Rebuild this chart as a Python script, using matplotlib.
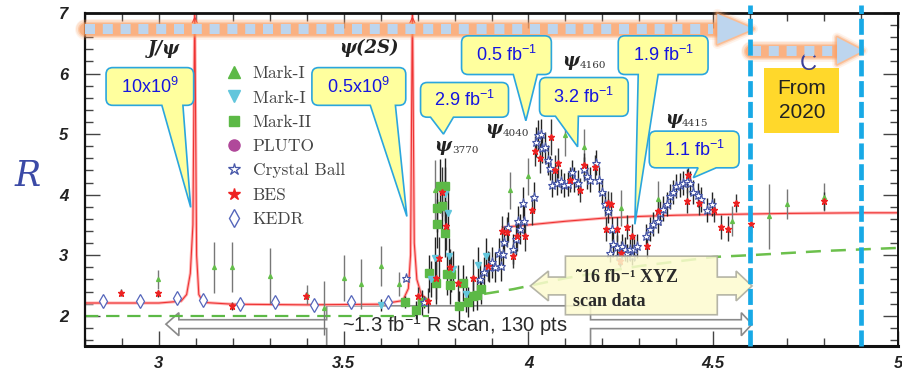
"""R ratio scan plot with BESIII luminosity callouts."""

import matplotlib.pyplot as plt
from matplotlib.lines import Line2D
from matplotlib.patches import PathPatch, Polygon, Rectangle
from matplotlib.path import Path
from matplotlib.ticker import MultipleLocator

plt.rcParams["mathtext.fontset"] = "custom"
plt.rcParams["mathtext.rm"] = "Liberation Sans"
plt.rcParams["mathtext.default"] = "rm"

# ---- measurements: energy (GeV), R, error -------------------------------
MARK_I_E = [2.997, 3.149, 3.198, 3.30, 3.40, 3.448, 3.50, 3.548, 3.60, 3.649,
            3.748, 3.95, 4.00, 4.099, 4.151, 4.25, 4.351, 4.55, 4.65, 4.70, 4.80]
MARK_I_R = [2.60, 2.80, 2.81, 2.66, 2.35, 2.13, 2.63, 2.52, 2.82, 2.52,
            4.07, 4.07, 4.30, 4.98, 4.78, 3.78, 3.93, 3.56, 3.64, 3.85, 3.96]
MARK_I_ERR = [0.16, 0.42, 0.41, 0.46, 0.15, 0.45, 0.38, 0.41, 0.33, 0.20,
              0.50, 0.30, 0.30, 0.35, 0.30, 0.30, 0.30, 0.25, 0.53, 0.25, 0.23]

MARK_IP_E = [3.60, 3.737, 3.748, 3.775, 3.782, 3.786, 3.797, 3.831, 3.863, 3.885]
MARK_IP_R = [2.17, 2.61, 2.95, 4.01, 3.70, 2.99, 2.77, 2.36, 2.84, 2.99]
MARK_IP_ERR = [0.10, 0.30, 0.35, 0.45, 0.40, 0.30, 0.30, 0.30, 0.30, 0.30]

MARK_II_E = [3.667, 3.695, 3.712, 3.730, 3.749, 3.752, 3.752, 3.761, 3.766, 3.773,
             3.775, 3.779, 3.788, 3.791, 3.813, 3.823, 3.836, 3.849, 3.860, 3.872]
MARK_II_R = [2.22, 2.10, 2.22, 2.70, 2.54, 3.78, 3.52, 4.14, 3.81, 4.15,
             3.37, 2.69, 2.50, 2.69, 2.16, 2.54, 2.23, 2.33, 2.34, 2.44]
MARK_II_ERR = [0.10, 0.15, 0.20, 0.30, 0.35, 0.40, 0.40, 0.45, 0.40, 0.45,
               0.40, 0.35, 0.30, 0.30, 0.25, 0.30, 0.25, 0.25, 0.25, 0.25]

CBALL_E = [3.668, 3.716, 3.869, 3.881, 3.892, 3.901, 3.910, 3.919, 3.926, 3.932,
           3.935, 3.944, 3.957, 3.966, 3.973, 3.977, 3.984, 3.989, 4.016, 4.020,
           4.025, 4.034, 4.038, 4.045, 4.052, 4.059, 4.063, 4.077, 4.088, 4.095,
           4.108, 4.119, 4.124, 4.135, 4.149, 4.158, 4.167, 4.182, 4.190, 4.198,
           4.207, 4.215, 4.221, 4.226, 4.230, 4.239, 4.244, 4.252, 4.261, 4.266,
           4.275, 4.281, 4.286, 4.295, 4.317, 4.329, 4.338, 4.350, 4.356, 4.365,
           4.374, 4.383, 4.392, 4.398, 4.410, 4.419, 4.428, 4.437, 4.446, 4.458,
           4.468, 4.482, 4.497]
CBALL_R = [2.62, 2.23, 2.60, 2.72, 2.81, 2.88, 2.80, 3.03, 2.82, 3.02,
           3.22, 3.47, 3.10, 3.26, 3.56, 3.43, 3.87, 3.56, 3.96, 4.87,
           4.98, 5.00, 4.77, 4.78, 4.57, 4.44, 4.16, 4.20, 4.22, 4.16,
           4.18, 4.37, 4.25, 4.20, 4.42, 4.30, 4.25, 4.53, 4.25, 4.05,
           3.85, 3.73, 3.03, 3.43, 3.18, 3.13, 2.98, 3.15, 3.10, 3.04,
           3.10, 2.98, 3.11, 3.15, 3.31, 3.43, 3.51, 3.56, 3.70, 3.77,
           3.85, 3.97, 4.04, 4.14, 4.16, 4.19, 4.22, 4.19, 4.05, 4.00,
           3.92, 3.75, 3.85]
CBALL_ERR = [0.05, 0.10, 0.25, 0.25, 0.25, 0.25, 0.25, 0.25, 0.25, 0.25,
             0.25, 0.25, 0.25, 0.25, 0.25, 0.25, 0.25, 0.25, 0.25, 0.25,
             0.25, 0.25, 0.25, 0.25, 0.25, 0.20, 0.20, 0.20, 0.20, 0.20,
             0.20, 0.20, 0.20, 0.20, 0.20, 0.20, 0.20, 0.20, 0.20, 0.20,
             0.20, 0.20, 0.15, 0.20, 0.20, 0.20, 0.15, 0.20, 0.20, 0.15,
             0.20, 0.15, 0.20, 0.20, 0.20, 0.20, 0.20, 0.20, 0.20, 0.20,
             0.20, 0.20, 0.20, 0.20, 0.20, 0.20, 0.20, 0.20, 0.20, 0.20,
             0.20, 0.20, 0.20]

BES_E = [2.898, 2.997, 3.198, 3.399, 3.701, 3.728, 3.750, 3.757, 3.766, 3.777,
         3.788, 3.809, 3.851, 3.890, 3.928, 3.941, 3.957, 3.969, 3.991, 4.009,
         4.018, 4.031, 4.061, 4.072, 4.079, 4.112, 4.140, 4.151, 4.180, 4.209,
         4.216, 4.223, 4.239, 4.248, 4.250, 4.266, 4.281, 4.320, 4.350, 4.428,
         4.432, 4.461, 4.503, 4.521, 4.539, 4.561, 4.602, 4.800]
BES_R = [2.38, 2.37, 2.16, 2.33, 2.33, 2.25, 2.63, 2.95, 4.05, 3.49,
         2.80, 2.54, 2.63, 2.82, 3.40, 3.38, 2.99, 3.32, 3.32, 3.75,
         4.72, 4.61, 4.95, 4.41, 4.52, 4.25, 4.08, 4.49, 4.45, 3.43,
         3.86, 3.85, 3.43, 2.91, 3.03, 3.47, 3.31, 3.15, 3.73, 3.89,
         4.33, 3.87, 3.75, 3.47, 3.44, 3.86, 3.51, 3.89]
BES_ERR = [0.06, 0.06, 0.06, 0.06, 0.15, 0.20, 0.35, 0.35, 0.40, 0.40,
           0.30, 0.30, 0.30, 0.25, 0.25, 0.25, 0.20, 0.25, 0.25, 0.25,
           0.25, 0.25, 0.30, 0.25, 0.25, 0.20, 0.20, 0.20, 0.20, 0.20,
           0.20, 0.20, 0.20, 0.10, 0.20, 0.20, 0.20, 0.20, 0.20, 0.20,
           0.20, 0.20, 0.20, 0.20, 0.20, 0.15, 0.15, 0.15]

KEDR_E = [2.85, 2.95, 3.05, 3.12, 3.22, 3.315, 3.42, 3.52, 3.62]
KEDR_R = [2.24, 2.24, 2.29, 2.26, 2.20, 2.22, 2.18, 2.22, 2.22]

# theory curve with the two narrow resonances, nan breaks the hidden part
CURVE_E = [2.80, 3.00, 3.06, 3.075, 3.085, 3.092, 3.097, 3.102, 3.108, 3.12,
           3.20, 3.40, 3.60, 3.66, 3.675, 3.681, 3.686, 3.691, 3.698, 3.71,
           3.73, float("nan"), 3.93, 4.00, 4.10, 4.20, 4.30, 4.40, 4.50,
           4.60, 4.70, 4.80, 4.90, 5.00]
CURVE_R = [2.21, 2.21, 2.24, 2.35, 2.70, 3.50, 7.20, 3.00, 2.35, 2.22,
           2.19, 2.18, 2.19, 2.25, 2.45, 3.00, 7.20, 3.20, 2.60, 2.35,
           2.25, float("nan"), 3.46, 3.50, 3.56, 3.61, 3.64, 3.66, 3.67,
           3.68, 3.69, 3.695, 3.70, 3.70]

PQCD_LOW_E = [2.80, 3.73]
PQCD_LOW_R = [2.00, 2.00]
PQCD_HIGH_E = [3.88, 3.96, 4.10, 4.30, 4.50, 4.60, 4.80, 5.00]
PQCD_HIGH_R = [2.36, 2.44, 2.62, 2.82, 2.97, 3.00, 3.07, 3.12]

RESONANCES = [3.097, 3.686]
RUN_LINES = [4.60, 4.90]

# callouts: (left, right, bottom, top, wedge left, wedge right, tip E, tip R, label)
CALLOUTS = [
    (2.857, 3.094, 5.475, 6.098, 3.008, 3.065, 3.086, 3.79, r"10x10$^{9}$"),
    (3.414, 3.668, 5.475, 6.098, 3.572, 3.640, 3.671, 3.64, r"0.5x10$^{9}$"),
    (3.708, 3.946, 5.279, 5.852, 3.735, 3.797, 3.770, 5.00, r"2.9 fb$^{-1}$"),
    (3.819, 4.062, 5.984, 6.623, 3.959, 4.024, 3.993, 5.22, r"0.5 fb$^{-1}$"),
    (4.030, 4.270, 5.295, 5.934, 4.073, 4.135, 4.133, 4.79, r"3.2 fb$^{-1}$"),
    (4.243, 4.486, 5.984, 6.623, 4.297, 4.351, 4.288, 3.51, r"1.9 fb$^{-1}$"),
    (4.327, 4.570, 4.443, 5.049, 4.459, 4.508, 4.446, 4.28, r"1.1 fb$^{-1}$"),
]

# peak labels: (E, R, name, subscript)
PEAKS = [(3.769, 4.80, "ψ", "3770"), (3.905, 5.08, "ψ", "4040"),
         (4.114, 6.20, "ψ", "4160"), (4.392, 5.25, "ψ", "4415")]

GREEN = "#5cb946"
CYAN_RUN = "#18a9e6"
BUBBLE = "#ffff9e"
BUBBLE_EDGE = "#2ba6dd"
SERIF_LEG = ["cmr10", "DejaVu Serif"]


def callout(ax, x0, x1, y0, y1, w0, w1, tx, ty, label):
    rx, ry = 0.018, 0.11
    verts = [(x0 + rx, y0), (w0, y0), (tx, ty), (w1, y0), (x1 - rx, y0),
             (x1, y0), (x1, y0 + ry), (x1, y1 - ry), (x1, y1), (x1 - rx, y1),
             (x0 + rx, y1), (x0, y1), (x0, y1 - ry), (x0, y0 + ry), (x0, y0),
             (x0 + rx, y0)]
    codes = [Path.MOVETO, Path.LINETO, Path.LINETO, Path.LINETO, Path.LINETO,
             Path.CURVE3, Path.CURVE3, Path.LINETO, Path.CURVE3, Path.CURVE3,
             Path.LINETO, Path.CURVE3, Path.CURVE3, Path.LINETO, Path.CURVE3,
             Path.CURVE3]
    ax.add_patch(PathPatch(Path(verts, codes), facecolor=BUBBLE,
                           edgecolor=BUBBLE_EDGE, lw=1.2, zorder=8,
                           clip_on=False))
    ax.text((x0 + x1) / 2, (y0 + y1) / 2, label, color="#1515e0",
            fontsize=13, ha="center", va="center", zorder=9,
            family="Liberation Sans")


def glow_arrow(ax, x0, head, tip, y, half):
    for lw, alpha in [(15, 0.12), (13, 0.2), (11, 0.35), (9, 0.55)]:
        ax.plot([x0, head], [y, y], color="#fa9e62", lw=lw, alpha=alpha,
                solid_capstyle="round", clip_on=False, zorder=6)
    tri = [(head, y + half), (tip, y), (head, y - half)]
    for lw, alpha in [(7, 0.12), (4.5, 0.25), (2.5, 0.5)]:
        ax.add_patch(Polygon(tri, closed=True, facecolor="none",
                             edgecolor="#fa9e62", lw=lw, alpha=alpha,
                             joinstyle="round", clip_on=False, zorder=6))
    ax.add_patch(Polygon(tri, closed=True, facecolor="#bdd5ee",
                         edgecolor="none", clip_on=False, zorder=7))
    ax.plot([x0, head - 0.012], [y, y], color="#bdd5ee", lw=7.2,
            dashes=(1.0, 0.78), dash_capstyle="butt", clip_on=False, zorder=7)


def main() -> None:
    fig = plt.figure(figsize=(9.02, 3.72), dpi=100)
    ax = fig.add_axes([85 / 902, 26 / 372, 813 / 902, 333 / 372])
    ax.set_xlim(2.8, 5.0)
    ax.set_ylim(1.5, 7.0)

    tick_font = dict(family="Liberation Sans", fontstyle="italic",
                     fontweight="bold", fontsize=12, color="#222222")
    ax.set_xticks([3, 3.5, 4, 4.5, 5], labels=["3", "3.5", "4", "4.5", "5"],
                  **tick_font)
    ax.set_yticks([2, 3, 4, 5, 6, 7], labels=["2", "3", "4", "5", "6", "7"],
                  **tick_font)
    ax.xaxis.set_minor_locator(MultipleLocator(0.1))
    ax.yaxis.set_minor_locator(MultipleLocator(0.2))
    ax.tick_params(which="both", direction="in", top=True, right=True,
                   color="#444444", width=1.0)
    ax.tick_params(which="major", length=10.5)
    ax.tick_params(which="minor", length=5.5)
    ax.tick_params(axis="x", pad=7)
    ax.tick_params(axis="y", pad=12)
    for side, width in [("left", 1.6), ("right", 1.4), ("top", 2.0),
                        ("bottom", 2.2)]:
        ax.spines[side].set_linewidth(width)
        ax.spines[side].set_color("#111111")

    ax.set_ylabel("R", rotation=0, fontsize=25, color="#3b4aa6",
                  family="DejaVu Serif", fontstyle="italic")
    ax.yaxis.set_label_coords(-0.07, 0.46)

    # R scan block arrow with text box
    scan = [(3.454, 2.164), (4.168, 2.164), (4.168, 1.934), (4.576, 1.934),
            (4.576, 2.05), (4.605, 1.861), (4.576, 1.67), (4.576, 1.787),
            (4.168, 1.787), (4.168, 1.40), (3.454, 1.40), (3.454, 1.787),
            (3.054, 1.787), (3.054, 1.67), (3.019, 1.861), (3.054, 2.05),
            (3.054, 1.934), (3.454, 1.934)]
    ax.add_patch(Polygon(scan, closed=True, facecolor="white",
                         edgecolor="#8a8a8a", lw=1.2, zorder=1.5))
    ax.text(3.80, 1.84, r"~1.3 fb$^{-1}$ R scan, 130 pts", fontsize=14.5,
            color="#2a2a2a", ha="center", va="center", zorder=1.6,
            family="Liberation Sans")

    # pQCD (green dashed) and fitted curve (red)
    ax.plot(PQCD_LOW_E, PQCD_LOW_R, color=GREEN, lw=1.6, dashes=(6, 3.5),
            zorder=2)
    ax.plot(PQCD_HIGH_E, PQCD_HIGH_R, color="#6cc04c", lw=1.8,
            dashes=(6, 4), zorder=2)
    ax.plot(CURVE_E, CURVE_R, color="#ffb4b4", lw=2.2, zorder=2.2)
    ax.plot(CURVE_E, CURVE_R, color="#ee3333", lw=0.8, zorder=2.3)
    for e in RESONANCES:
        ax.annotate("", xy=(e, 6.99), xytext=(e, 6.85),
                    arrowprops=dict(arrowstyle="->", color="#ee3333", lw=0.9,
                                    mutation_scale=9), zorder=2.3)

    # measurements
    series = [
        (MARK_I_E, MARK_I_R, MARK_I_ERR, "#777777"),
        (MARK_IP_E, MARK_IP_R, MARK_IP_ERR, "#222222"),
        (MARK_II_E, MARK_II_R, MARK_II_ERR, "#222222"),
        (CBALL_E, CBALL_R, CBALL_ERR, "#222222"),
        (BES_E, BES_R, BES_ERR, "#333333"),
    ]
    for e, r, err, col in series:
        ax.errorbar(e, r, yerr=err, fmt="none", ecolor=col, elinewidth=1.0,
                    capsize=0, zorder=3)

    ax.plot(MARK_II_E, MARK_II_R, ls="none", marker="s", ms=5.2, color=GREEN,
            zorder=4)
    ax.plot(MARK_IP_E, MARK_IP_R, ls="none", marker="v", ms=4.5,
            color="#62c6dc", zorder=4)
    ax.plot(MARK_I_E, MARK_I_R, ls="none", marker="^", ms=2.8, color="#64bf4a",
            zorder=4)
    ax.plot(CBALL_E, CBALL_R, ls="none", marker="*", ms=6.5, mfc="white",
            mec="#4656a8", mew=0.8, zorder=4)
    ax.plot(BES_E, BES_R, ls="none", marker="*", ms=4.6, color="#ee2222",
            zorder=4.1)
    ax.plot(KEDR_E, KEDR_R, ls="none", marker="d", ms=7, mfc="white",
            mec="#5566bb", mew=0.9, zorder=4)

    # XYZ scan block arrow
    xyz = [(4.100, 2.984), (4.511, 2.984), (4.511, 2.639), (4.562, 2.639),
           (4.562, 2.738), (4.605, 2.492), (4.562, 2.246), (4.562, 2.344),
           (4.511, 2.344), (4.511, 2.016), (4.100, 2.016), (4.100, 2.344),
           (4.054, 2.344), (4.054, 2.246), (4.005, 2.492), (4.054, 2.738),
           (4.054, 2.639), (4.100, 2.639)]
    ax.add_patch(Polygon(xyz, closed=True, facecolor="#fdfbcf", alpha=0.85,
                         edgecolor="#a8a89a", lw=1.2, zorder=5))
    ax.text(4.13, 2.63, "˜16 fb⁻¹ XYZ", fontsize=13, fontweight="bold",
            color="#2a2a2a", va="center", zorder=5.5,
            family=["Liberation Serif", "DejaVu Serif"])
    ax.text(4.12, 2.24, "scan data", fontsize=13, fontweight="bold",
            color="#2a2a2a", va="center", zorder=5.5,
            family=["Liberation Serif", "DejaVu Serif"])

    # resonance labels
    peak_font = dict(family="DejaVu Serif", fontstyle="italic",
                     fontweight="bold", color="#222222", zorder=5)
    ax.text(3.014, 6.40, "J/ψ", fontsize=13, ha="center", va="center",
            **peak_font)
    ax.text(3.568, 6.42, "ψ(2S)", fontsize=13, ha="center", va="center",
            **peak_font)
    for e, r, name, sub in PEAKS:
        ax.text(e, r, name, fontsize=13, ha="center", va="center", **peak_font)
        ax.text(e + 0.024, r - 0.07, sub, fontsize=7.5, va="center",
                family="DejaVu Serif", color="#333333", zorder=5)

    # legend
    handles = [
        Line2D([], [], ls="none", marker="^", ms=8, color="#5cb946"),
        Line2D([], [], ls="none", marker="v", ms=8, color="#62c6dc"),
        Line2D([], [], ls="none", marker="s", ms=7.5, color="#5cb946"),
        Line2D([], [], ls="none", marker="o", ms=8, color="#b0489a"),
        Line2D([], [], ls="none", marker="*", ms=9, mfc="white",
               mec="#4656a8", mew=0.9),
        Line2D([], [], ls="none", marker="*", ms=9, color="#ee2222"),
        Line2D([], [], ls="none", marker="d", ms=9, mfc="white",
               mec="#5566bb", mew=1.0),
    ]
    labels = ["Mark-I", "Mark-I + LGW", "Mark-II", "PLUTO", "Crystal Ball",
              "BES", "KEDR"]
    leg = ax.legend(handles, labels, loc="upper left",
                    bbox_to_anchor=(0.172, 0.842), frameon=False,
                    handlelength=1.0, handletextpad=0.6, labelspacing=0.52,
                    borderpad=0, borderaxespad=0,
                    prop=dict(family=SERIF_LEG, size=12.5))
    for txt in leg.get_texts():
        txt.set_color("#444444")
    leg.set_zorder(5)

    # upcoming run range
    for e in RUN_LINES:
        ax.plot([e, e], [1.5, 7.13], color=CYAN_RUN, lw=3.4, dashes=(3.4, 1.0),
                dash_capstyle="butt", clip_on=False, zorder=10)
    ax.add_patch(Rectangle((4.638, 5.016), 0.203, 1.082, facecolor="#ffd82b",
                           edgecolor="none", zorder=6))
    ax.text(4.74, 5.56, "From\n2020", fontsize=15, ha="center", va="center",
            linespacing=1.35, color="#222222", family="Liberation Sans",
            zorder=7)
    ax.text(4.757, 6.16, "C", fontsize=17, ha="center", va="center",
            color="#3c3f98", family="Liberation Sans", zorder=6.5)

    glow_arrow(ax, 2.8, 4.511, 4.608, 6.738, 0.25)
    glow_arrow(ax, 4.603, 4.835, 4.905, 6.377, 0.22)

    for c in CALLOUTS:
        callout(ax, *c)

    fig.savefig("out.png", dpi=100)


if __name__ == "__main__":
    main()
